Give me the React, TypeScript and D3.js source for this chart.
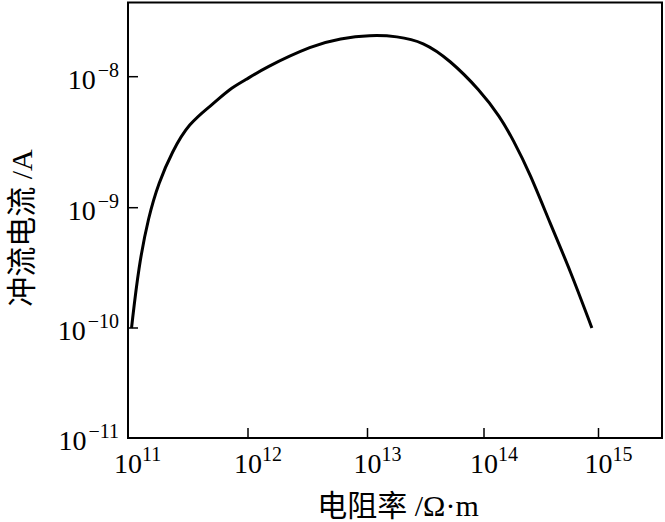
import React from "react";
import * as d3 from "d3";

// Data (resistivity in Ω·m, surge current in A)
const resistivity = [
  1.07e11, 1.225e11, 1.485e11, 1.8e11, 2.33e11, 3.2e11, 5.0e11, 7.12e11, 9.5e11,
  1.35e12, 3.54e12, 5.9e12, 1.05e13, 1.79e13, 3.0e13, 5.1e13, 9.2e13, 1.38e14,
  1.8e14, 2.52e14, 3.78e14, 5.65e14, 8.75e14,
];
const current = [
  1e-10, 3.24e-10, 8.5e-10, 1.55e-9, 2.67e-9, 4.4e-9, 6.08e-9, 8.15e-9, 9.4e-9,
  1.16e-8, 1.75e-8, 1.96e-8, 2.08e-8, 2.04e-8, 1.85e-8, 1.34e-8, 7.9e-9, 4.96e-9,
  3.29e-9, 1.83e-9, 7.4e-10, 3.03e-10, 1.0e-10,
];
const xTickExponents = [11, 12, 13, 14, 15];
const yTickExponents = [-11, -10, -9, -8];
const xTitle = "电阻率 /Ω·m";
const yTitle = "冲流电流 /A";

const W = 665;
const H = 522;
const FONT = '"Liberation Serif", "Times New Roman", Times, "Noto Sans CJK SC", serif';

// Log axes (the printed decades are slightly unevenly spaced)
const xScale = d3
  .scaleLinear()
  .domain([11, 12, 13, 14, 15, 15.565])
  .range([128, 248, 367.5, 484, 598.5, 663]);
const yScale = d3
  .scaleLinear()
  .domain([-11, -10, -9, -8, -7.43])
  .range([438, 328, 207.7, 76.7, 2]);

const left = xScale(11);
const right = xScale(15.565) - 1;
const top = yScale(-7.43) + 0.5;
const bottom = yScale(-11);

export default function App() {
  const pts: [number, number][] = resistivity.map((r, i) => [
    xScale(Math.log10(r)),
    yScale(Math.log10(current[i])),
  ]);
  const line = d3.line().curve(d3.curveBasis);
  const pathD = line(pts) || "";

  return (
    <svg
      width={W}
      height={H}
      style={{ position: "absolute", left: 0, top: 0, background: "#fff", fontFamily: FONT }}
    >
      <rect x={0} y={0} width={W} height={H} fill="#fff" />
      {/* frame */}
      <rect
        x={left}
        y={top}
        width={right - left}
        height={bottom - top}
        fill="none"
        stroke="#000"
        strokeWidth={2}
      />
      {/* x ticks */}
      {xTickExponents.map((e) => {
        const x = xScale(e);
        return (
          <g key={"x" + e}>
            {e !== 11 && (
              <line x1={x} x2={x} y1={bottom} y2={bottom - 10} stroke="#000" strokeWidth={1.5} />
            )}
            <text x={x - 14} y={473} fontSize={28} fill="#000">
              10
              <tspan fontSize={20} dy={-12}>
                {String(e)}
              </tspan>
            </text>
          </g>
        );
      })}
      {/* y ticks */}
      {yTickExponents.map((e) => {
        const y = yScale(e);
        return (
          <g key={"y" + e}>
            {e !== -11 && (
              <line x1={left} x2={left + 10} y1={y} y2={y} stroke="#000" strokeWidth={1.5} />
            )}
            <text x={119} y={y + 12} fontSize={28} textAnchor="end" fill="#000">
              10
              <tspan fontSize={20} dy={-12} dx={2}>
                {"\u2212" + String(-e)}
              </tspan>
            </text>
          </g>
        );
      })}
      {/* curve */}
      <path d={pathD} fill="none" stroke="#000" strokeWidth={3} strokeLinejoin="round" />
      {/* axis titles */}
      <text x={398} y={516} fontSize={30} textAnchor="middle" fill="#000">
        {xTitle}
      </text>
      <text
        transform={`translate(32,228) rotate(-90)`}
        fontSize={30}
        textAnchor="middle"
        fill="#000"
      >
        {yTitle}
      </text>
    </svg>
  );
}
